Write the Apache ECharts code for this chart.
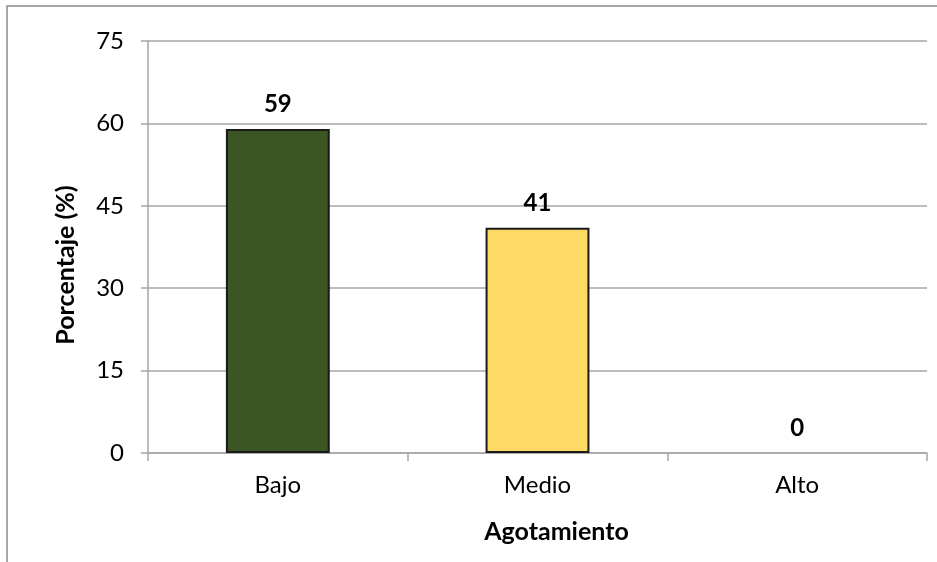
<!DOCTYPE html>
<html>
<head>
<meta charset="utf-8">
<script src="https://cdn.jsdelivr.net/npm/echarts@6/dist/echarts.min.js"></script>
<style>
  html, body { margin: 0; padding: 0; background: #fff; }
  #chart { width: 937px; height: 562px; }
</style>
</head>
<body>
<div id="chart"></div>
<script>
var categories = ['Bajo', 'Medio', 'Alto'];
var values = [59, 41, 0];
var yTicks = [0, 15, 30, 45, 60, 75];

var barColors = ['#3B5622', '#FFD966', '#FFFFFF'];

var chart = echarts.init(document.getElementById('chart'));
var font = 'Lato, "Noto Sans", sans-serif';

var options = {
  animation: false,
  backgroundColor: '#fff',
  textStyle: { fontFamily: font },
  graphic: [
    {
      type: 'rect',
      shape: { x: 7, y: 6, width: 1000, height: 700 },
      style: { fill: 'none', stroke: '#8c8c8c', lineWidth: 1.5 },
      silent: true
    }
  ],
  grid: { left: 148, right: 10, top: 41, bottom: 109 },
  xAxis: {
    type: 'category',
    data: categories,
    name: 'Agotamiento',
    nameLocation: 'middle',
    nameGap: 66,
    nameTextStyle: {
      fontFamily: font, fontSize: 25, fontWeight: 'bold', color: '#000',
      padding: [0, 0, 0, 38]
    },
    axisLine: { lineStyle: { color: '#a6a6a6', width: 1.5 } },
    axisTick: { show: true, alignWithLabel: false, length: 8, lineStyle: { color: '#a6a6a6', width: 1.5 } },
    axisLabel: { fontFamily: font, fontSize: 24, color: '#000', margin: 20 }
  },
  yAxis: {
    type: 'value',
    min: yTicks[0],
    max: yTicks[yTicks.length - 1],
    interval: yTicks[1] - yTicks[0],
    name: 'Porcentaje (%)',
    nameLocation: 'middle',
    nameGap: 70,
    nameTextStyle: {
      fontFamily: font, fontSize: 25, fontWeight: 'bold', color: '#000',
      padding: [0, 36, 0, 0]
    },
    axisLine: { show: true, lineStyle: { color: '#a6a6a6', width: 1.5 } },
    axisTick: { show: true, length: 7, lineStyle: { color: '#a6a6a6', width: 1.5 } },
    axisLabel: { fontFamily: font, fontSize: 24, color: '#000', margin: 24 },
    splitLine: { lineStyle: { color: '#a6a6a6', width: 1.5 } }
  },
  series: [
    {
      type: 'bar',
      barWidth: '40%',
      data: values.map(function (v, i) {
        return {
          value: v,
          itemStyle: {
            color: barColors[i],
            borderColor: '#1a1a1a',
            borderWidth: v === 0 ? 0 : 2
          }
        };
      }),
      label: {
        show: true,
        position: 'top',
        distance: 13,
        fontFamily: font,
        fontSize: 24,
        fontWeight: 'bold',
        color: '#000'
      }
    }
  ]
};
chart.setOption(options);
</script>
</body>
</html>
